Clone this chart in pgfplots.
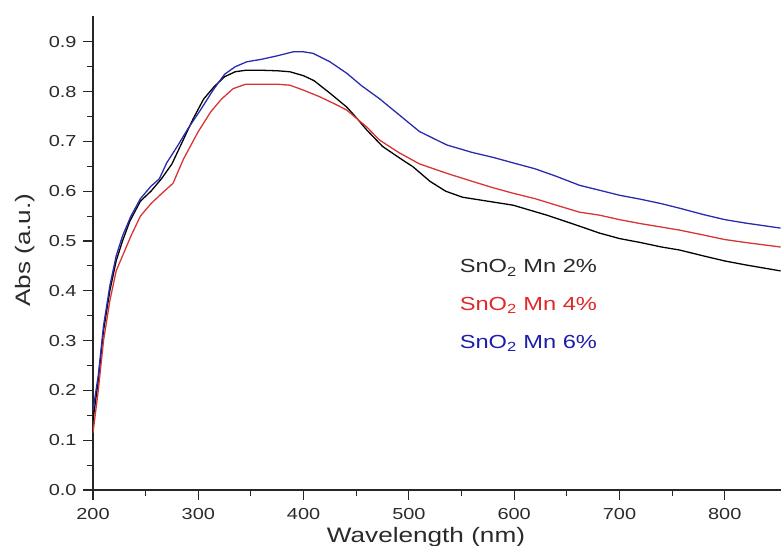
\documentclass[border=0pt]{standalone}
\usepackage{fontspec}
\setmainfont[FakeStretch=1.25]{Liberation Sans}
\usepackage{pgfplots}
\pgfplotsset{compat=1.18}
\definecolor{txtgray}{HTML}{2A2A2A}
\definecolor{cred}{HTML}{E02828}
\definecolor{cblue}{HTML}{1E1EA8}
\definecolor{lred}{HTML}{D83434}
\definecolor{lblue}{HTML}{2A2AB0}
\begin{document}
\begin{tikzpicture}
\begin{axis}[
  scale only axis, width=688bp, height=474bp,
  xmin=200, xmax=853.4, ymin=0, ymax=0.952,
  axis x line*=bottom, axis y line*=left,
  axis line style={line width=1.2pt, black!85},
  xtick={200,300,...,800}, ytick={0,0.1,...,0.9},
  minor tick num=1,
  tick align=outside,
  major tick length=10bp, minor tick length=6bp,
  every tick/.style={line width=1.1pt, black!85},
  /pgf/number format/assume math mode=true,
  tick label style={font=\fontsize{16}{17}\selectfont, text=txtgray},
  yticklabel style={/tikz/xshift=-3bp, /pgf/number format/fixed, /pgf/number format/fixed zerofill, /pgf/number format/precision=1},
  xticklabel style={/tikz/yshift=-5bp, /pgf/number format/1000 sep={}},
  xlabel={Wavelength (nm)}, ylabel={Abs (a.u.)},
  label style={font=\fontsize{21}{22}\selectfont, text=txtgray},
  xlabel style={at={(rel axis cs:0.484,0)}, anchor=north, yshift=-34bp},
  ylabel style={at={(rel axis cs:0,0.506)}, anchor=south, yshift=55bp},
  clip=true,
]
\addplot[black, line width=1.3pt] coordinates {
(200,0.14) (205,0.22) (210,0.32) (216,0.40) (222,0.46) (228,0.50) (235,0.54) (245,0.58) (255,0.60) (265,0.625) (275,0.655) (285,0.70) (295,0.745) (305,0.785) (315,0.81) (325,0.83) (335,0.84) (345,0.843) (360,0.843) (375,0.842) (387,0.84) (400,0.832) (410,0.822) (425,0.797) (441,0.769) (450,0.748) (460,0.723) (475,0.69) (491,0.667) (504,0.649) (520,0.62) (535,0.60) (551,0.588) (575,0.58) (599,0.572) (615,0.562) (631,0.552) (655,0.535) (681,0.516) (700,0.505) (720,0.497) (740,0.488) (757,0.482) (780,0.47) (800,0.46) (820,0.452) (853,0.44)
};
\addplot[lred, line width=1.3pt] coordinates {
(200,0.115) (205,0.20) (210,0.30) (216,0.38) (222,0.44) (228,0.47) (236,0.51) (245,0.55) (255,0.575) (265,0.595) (276,0.616) (286,0.665) (300,0.72) (312,0.76) (322,0.785) (333,0.806) (345,0.815) (360,0.815) (375,0.815) (387,0.813) (400,0.803) (415,0.79) (430,0.775) (441,0.763) (460,0.729) (472,0.703) (491,0.677) (510,0.655) (536,0.636) (560,0.62) (580,0.607) (599,0.596) (620,0.585) (640,0.572) (662,0.558) (681,0.552) (700,0.543) (720,0.535) (740,0.528) (757,0.522) (780,0.512) (800,0.503) (820,0.497) (853,0.488)
};
\addplot[lblue, line width=1.3pt] coordinates {
(200,0.16) (205,0.23) (210,0.33) (216,0.41) (222,0.47) (228,0.51) (236,0.55) (245,0.585) (255,0.61) (263,0.625) (270,0.657) (280,0.69) (290,0.725) (302,0.763) (314,0.803) (325,0.835) (335,0.85) (346,0.86) (360,0.865) (375,0.872) (390,0.88) (400,0.88) (409,0.877) (425,0.86) (441,0.837) (455,0.812) (472,0.786) (491,0.753) (510,0.72) (536,0.693) (560,0.678) (580,0.668) (599,0.657) (620,0.645) (640,0.63) (662,0.612) (681,0.602) (700,0.592) (720,0.584) (740,0.575) (757,0.566) (780,0.553) (800,0.543) (820,0.536) (853,0.526)
};
\node[anchor=west, text=txtgray, font=\fontsize{19}{20}\selectfont] at (axis cs:545,0.446) {SnO\textsubscript{2} Mn 2\%};
\node[anchor=west, text=cred, font=\fontsize{19}{20}\selectfont] at (axis cs:545,0.371) {SnO\textsubscript{2} Mn 4\%};
\node[anchor=west, text=cblue, font=\fontsize{19}{20}\selectfont] at (axis cs:545,0.295) {SnO\textsubscript{2} Mn 6\%};
\end{axis}
\pgfresetboundingbox
\path[use as bounding box] ([shift={(-93bp,-56bp)}]current axis.south west) rectangle ([shift={(0bp,16bp)}]current axis.north east);
\end{tikzpicture}
\end{document}
